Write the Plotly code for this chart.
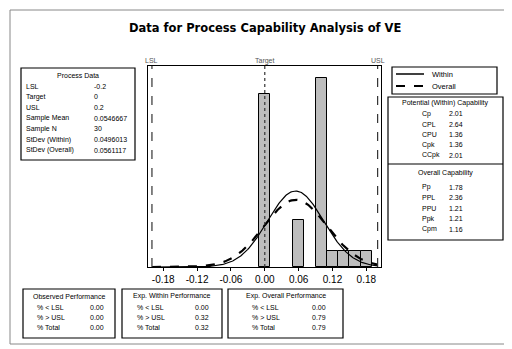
import numpy as np
import plotly.graph_objects as go

# datos del histograma (centros de clase y frecuencias)
bin_centers = [0.00, 0.06, 0.10, 0.12, 0.14, 0.16, 0.18]
counts = [11, 3, 12, 1, 1, 1, 1]
bin_width = 0.02

# especificaciones y estadisticos
LSL = -0.2
target = 0.0
USL = 0.2
mean = 0.0546667
n = 30
sd_within = 0.0496013
sd_overall = 0.0561117

tick_vals = [-0.18, -0.12, -0.06, 0.00, 0.06, 0.12, 0.18]
tick_text = ["-0.18", "-0.12", "-0.06", "0.00", "0.06", "0.12", "0.18"]

process_labels = ["LSL", "Target", "USL", "Sample Mean", "Sample N", "StDev (Within)", "StDev (Overall)"]
process_values = ["-0.2", "0", "0.2", "0.0546667", "30", "0.0496013", "0.0561117"]

within_labels = ["Cp", "CPL", "CPU", "Cpk", "CCpk"]
within_values = ["2.01", "2.64", "1.36", "1.36", "2.01"]

overall_labels = ["Pp", "PPL", "PPU", "Ppk", "Cpm"]
overall_values = ["1.78", "2.36", "1.21", "1.21", "1.16"]

perf_labels = ["% < LSL", "% > USL", "% Total"]
observed_perf = ["0.00", "0.00", "0.00"]
within_perf = ["0.00", "0.32", "0.32"]
overall_perf = ["0.00", "0.79", "0.79"]

# la pagina tiene margen de 8px en el body
OFF = 8
W, H = 512 - OFF, 349 - OFF
FONT = "Liberation Sans"


def px(x):
    return (x - OFF) / W


def py(y):
    return 1 - (y - OFF) / H


def normal_curve(xs, mu, sd):
    return n * bin_width * np.exp(-0.5 * ((xs - mu) / sd) ** 2) / (sd * np.sqrt(2 * np.pi))


xs = np.linspace(-0.2, 0.2, 300)

fig = go.Figure()
fig.add_trace(go.Bar(x=bin_centers, y=counts, width=bin_width,
                     marker=dict(color="#bdbdbd", line=dict(color="black", width=1)),
                     showlegend=False))
fig.add_trace(go.Scatter(x=xs, y=normal_curve(xs, mean, sd_within), mode="lines",
                         line=dict(color="black", width=1.2), name="Within", showlegend=False))
fig.add_trace(go.Scatter(x=xs, y=normal_curve(xs, mean, sd_overall), mode="lines",
                         line=dict(color="black", width=2.2, dash="dash"), name="Overall", showlegend=False))

shapes = []
annotations = []

# lineas de especificacion
for val, lab, dash in [(LSL, "LSL", "dash"), (target, "Target", "dot"), (USL, "USL", "dash")]:
    shapes.append(dict(type="line", xref="x", yref="paper", x0=val, x1=val,
                       y0=py(267), y1=py(66), line=dict(color="#333333", width=1.2, dash=dash)))
    annotations.append(dict(x=val, y=py(61), xref="x", yref="paper", text=lab, showarrow=False,
                            font=dict(size=7, color="#555555", family=FONT), yanchor="middle"))


def box(x0, y0, x1, y1):
    shapes.append(dict(type="rect", xref="paper", yref="paper", x0=px(x0), x1=px(x1),
                       y0=py(y1), y1=py(y0), line=dict(color="black", width=1.2), fillcolor="white",
                       layer="below"))


def txt(x, y, s, anchor="left", size=7):
    annotations.append(dict(x=px(x), y=py(y), xref="paper", yref="paper", text=s, showarrow=False,
                            xanchor=anchor, yanchor="middle",
                            font=dict(size=size, color="black", family=FONT)))


# marco exterior
shapes.append(dict(type="rect", xref="paper", yref="paper", x0=px(10), x1=px(508), y0=py(344), y1=py(10),
                   line=dict(color="#888888", width=1), layer="below"))

# titulo
annotations.append(dict(x=px(265), y=py(28), xref="paper", yref="paper", showarrow=False,
                        text="<b>Data for Process Capability Analysis of VE</b>", yanchor="middle",
                        font=dict(size=11.5, color="black", family="DejaVu Sans")))

# Process Data
box(21, 68, 135, 160)
txt(78, 75, "Process Data", "center")
for i, (lab, val) in enumerate(zip(process_labels, process_values)):
    y = 86 + i * 10.7
    txt(24, y, lab)
    txt(92, y, val)

# leyenda
box(392, 67, 497, 94)
shapes.append(dict(type="line", xref="paper", yref="paper", x0=px(396), x1=px(424), y0=py(74), y1=py(74),
                   line=dict(color="black", width=1.5)))
shapes.append(dict(type="line", xref="paper", yref="paper", x0=px(396), x1=px(424), y0=py(86), y1=py(86),
                   line=dict(color="black", width=2, dash="dash")))
txt(430, 74, "Within", size=7.5)
txt(430, 86, "Overall", size=7.5)

# capacidad
box(388, 97, 503, 240)
shapes.append(dict(type="line", xref="paper", yref="paper", x0=px(388), x1=px(503), y0=py(164), y1=py(164),
                   line=dict(color="black", width=1.2)))
txt(445, 103, "Potential (Within) Capability", "center")
for i, (lab, val) in enumerate(zip(within_labels, within_values)):
    y = 114 + i * 10.3
    txt(420, y, lab)
    txt(447, y, val)
txt(445, 173, "Overall Capability", "center")
for i, (lab, val) in enumerate(zip(overall_labels, overall_values)):
    y = 187 + i * 10.5
    txt(420, y, lab)
    txt(447, y, val)

# cuadros de desempeno
for (x0, x1, title, vals, lx, vx) in [
        (23, 115, "Observed Performance", observed_perf, 35, 88),
        (122, 222, "Exp. Within Performance", within_perf, 135, 193),
        (228, 343, "Exp. Overall Performance", overall_perf, 250, 310)]:
    box(x0, 289, x1, 338)
    txt((x0 + x1) / 2, 296, title, "center")
    for i, (lab, val) in enumerate(zip(perf_labels, vals)):
        y = 307 + i * 10
        txt(lx, y, lab)
        txt(vx, y, val)

fig.update_layout(
    width=W, height=H,
    margin=dict(l=0, r=0, t=0, b=0),
    paper_bgcolor="white", plot_bgcolor="white",
    bargap=0,
    shapes=shapes, annotations=annotations,
    xaxis=dict(domain=[px(148), px(381)], range=[-0.207, 0.206], tickvals=tick_vals, ticktext=tick_text,
               showgrid=False, zeroline=False, showline=True, mirror=True, linecolor="black", linewidth=1.2,
               ticks="outside", ticklen=3, tickcolor="black",
               tickfont=dict(size=10, color="black", family=FONT)),
    yaxis=dict(domain=[py(267), py(66)], range=[0, 12.76], showticklabels=False, showgrid=False,
               zeroline=False, showline=True, mirror=True, linecolor="black", linewidth=1.2, ticks=""),
)

fig.write_html("out.html")
